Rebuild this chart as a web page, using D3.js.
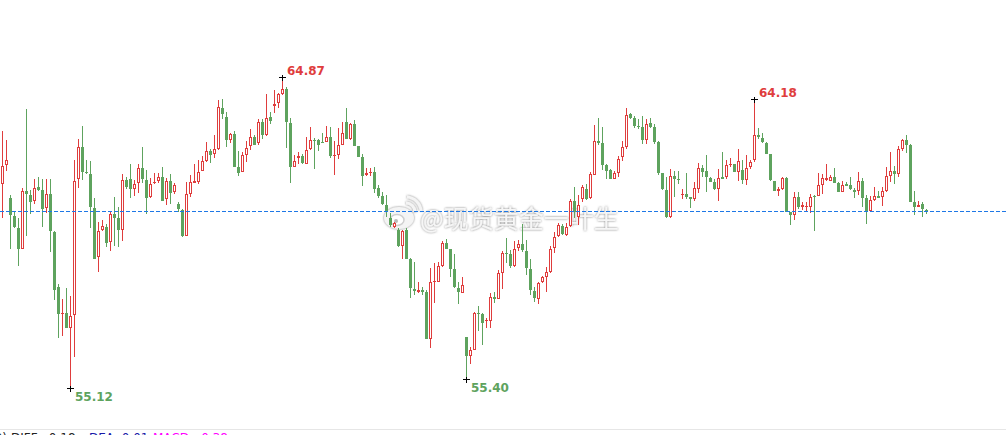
<!DOCTYPE html>
<html>
<head>
<meta charset="utf-8">
<script src="https://cdn.jsdelivr.net/npm/d3@7/dist/d3.min.js"></script>
<style>
  html, body { margin: 0; padding: 0; background: #ffffff; }
  svg { display: block; }
</style>
</head>
<body>
<div id="chart"></div>
<script>
// ---------------- DATA ----------------
const opens = [
61.50,62.09,61.07,60.50,60.13,59.48,61.29,61.15,60.97,61.40,
61.32,60.74,61.18,60.00,58.28,57.42,57.45,57.00,57.39,61.65,
62.66,61.89,61.82,60.74,59.21,60.05,60.16,59.68,60.57,60.44,
60.06,61.63,61.65,61.36,61.53,62.01,61.63,61.09,61.55,61.59,
61.72,61.03,61.60,61.25,60.88,60.69,59.89,61.20,61.55,61.57,
61.92,62.24,62.54,62.44,62.61,63.88,63.61,62.88,63.07,62.04,
61.87,62.43,62.71,62.97,62.78,63.45,63.05,63.61,63.96,64.03,
64.34,64.47,63.41,62.05,62.31,62.37,62.14,62.59,62.89,62.89,
62.82,62.81,62.97,62.40,62.43,62.74,63.45,62.92,63.39,62.69,
62.35,61.78,61.86,61.89,61.38,61.13,60.86,60.43,60.15,60.06,
59.57,60.06,59.14,58.21,58.13,58.17,58.12,56.66,58.43,58.44,
58.93,59.65,59.46,58.84,58.24,58.10,56.71,56.12,56.31,57.47,
57.43,57.20,57.20,57.96,57.89,58.73,59.34,59.32,58.95,59.49,
59.63,59.40,58.83,58.15,57.89,58.43,58.60,58.76,59.50,59.88,
60.20,59.91,60.18,60.96,60.48,61.04,61.34,61.06,61.80,62.85,
62.80,62.09,61.95,61.67,61.86,62.34,62.68,63.70,63.57,63.34,
63.30,62.87,63.42,63.30,62.82,61.84,61.32,60.48,61.75,61.66,
61.17,61.18,61.10,61.04,61.36,62.00,61.91,61.68,61.56,61.36,
61.72,61.72,62.09,62.14,61.89,61.95,61.62,62.03,62.26,63.03,
62.96,62.80,62.45,61.61,61.30,61.34,61.70,60.64,60.52,61.11,
60.77,60.77,60.80,61.12,61.12,61.48,61.63,61.61,61.71,61.54,
61.25,61.51,61.48,61.33,61.29,61.60,61.06,60.67,60.99,61.13,
61.09,61.29,61.75,61.91,61.81,62.60,62.89,62.73,60.94,60.80,
60.87,60.70];

const highs = [
63.17,62.89,61.15,60.64,60.43,61.37,63.86,61.32,61.67,61.72,
61.66,61.66,61.66,60.02,58.37,57.90,58.24,58.00,62.26,62.92,
63.32,62.26,62.24,61.06,60.30,60.38,60.25,60.63,61.09,60.78,
61.81,61.72,62.13,61.63,62.13,62.67,61.95,61.69,61.84,61.84,
62.04,61.69,61.82,61.55,60.93,60.73,61.57,61.79,62.13,62.26,
62.38,62.82,62.59,63.04,64.14,64.17,63.76,63.12,63.17,62.54,
62.50,62.86,63.23,63.03,63.54,63.54,64.34,63.75,64.45,64.36,
64.87,64.55,63.58,62.42,62.51,62.45,62.97,63.29,62.94,62.91,
63.11,63.33,63.29,62.86,63.26,63.44,63.89,63.43,63.51,62.69,
62.45,62.00,62.02,62.04,61.46,61.27,61.16,60.59,60.33,60.12,
60.06,60.14,59.20,59.07,58.42,58.29,58.18,58.86,59.04,59.07,
59.72,59.79,59.47,59.32,58.44,58.58,56.72,56.41,57.49,57.68,
57.47,57.32,58.10,58.12,58.81,59.39,59.82,59.45,59.72,59.74,
60.25,59.75,59.14,58.29,58.43,58.62,58.91,59.56,60.01,60.29,
60.25,60.27,61.03,61.40,61.16,61.48,61.50,61.87,63.36,63.57,
63.30,62.13,61.98,61.90,62.38,62.85,63.88,63.74,63.65,63.53,
63.64,63.53,63.57,63.38,62.85,61.84,61.74,61.97,61.91,61.92,
61.36,61.84,61.11,61.58,62.18,62.10,62.41,61.71,61.65,61.97,
62.50,62.26,62.31,62.14,62.60,62.26,62.40,62.26,64.18,63.27,
63.10,62.81,62.45,61.61,61.40,61.72,61.73,60.64,61.24,61.25,
60.93,60.93,61.18,61.16,61.85,61.82,62.12,61.80,62.01,61.58,
61.61,61.57,61.73,61.39,61.88,61.69,61.15,61.13,61.41,61.29,
61.41,62.04,62.51,62.06,62.70,62.92,63.04,62.76,61.29,60.96,
60.94,60.72];

const lows = [
60.45,61.92,59.47,60.12,58.95,59.46,59.89,60.56,60.88,61.30,
60.17,60.59,59.36,57.87,56.69,56.75,57.00,55.12,56.07,61.39,
61.63,61.82,60.12,59.16,58.76,60.02,59.54,59.42,59.56,59.52,
59.73,61.36,61.08,61.14,61.23,61.55,60.58,61.08,61.52,61.53,
60.98,60.86,60.89,61.18,60.64,59.86,59.89,61.11,61.55,61.52,
61.91,62.21,62.18,62.33,62.57,63.55,62.68,62.80,62.05,61.77,
61.87,62.21,62.56,62.74,62.73,62.93,63.02,63.39,63.74,63.90,
64.31,62.65,61.55,62.05,62.12,62.13,62.14,62.58,61.99,62.55,
62.78,62.81,62.31,61.80,62.28,62.74,62.92,62.87,62.71,62.35,
61.45,61.77,61.77,61.21,61.08,60.86,60.48,60.15,60.12,59.54,
59.17,59.14,57.92,58.03,58.09,58.03,56.64,56.38,57.77,58.42,
58.91,59.48,58.58,58.26,57.73,58.08,55.40,55.86,56.30,56.90,
56.46,57.00,57.00,57.77,57.89,58.21,59.04,58.86,58.91,59.42,
59.36,58.65,58.03,57.82,57.73,58.41,58.13,58.73,59.35,59.86,
59.91,59.88,60.17,60.45,60.21,60.95,61.00,61.04,61.79,62.73,
61.95,61.65,61.65,61.65,61.72,62.23,62.61,63.55,63.27,63.22,
62.75,62.75,63.27,62.76,61.79,61.32,60.45,60.45,61.11,61.50,
61.03,61.03,60.76,60.98,61.21,61.71,61.26,61.58,61.32,60.97,
61.65,61.67,62.03,61.88,61.59,61.51,61.48,61.97,62.19,62.93,
62.78,62.45,61.59,61.30,61.14,61.32,60.64,60.22,60.38,60.72,
60.69,60.66,60.61,60.04,61.12,61.20,61.60,61.59,61.53,61.25,
61.24,61.45,61.32,61.08,61.17,60.80,60.26,60.67,60.98,61.06,
60.82,61.26,61.58,61.50,61.74,62.55,62.47,60.95,60.54,60.80,
60.48,60.55];

const closes = [
62.07,62.26,60.52,60.15,59.48,61.28,61.18,60.93,61.39,61.33,
60.73,61.18,60.02,58.18,57.42,57.46,57.00,57.36,61.60,62.66,
61.89,61.84,60.78,59.17,60.03,60.19,59.67,60.57,60.45,60.05,
61.63,61.41,61.36,61.50,62.01,61.67,61.08,61.50,61.57,61.72,
60.98,61.60,61.23,61.46,60.71,59.89,61.18,61.56,61.61,61.87,
62.23,62.53,62.43,62.59,63.91,63.71,62.87,63.07,62.05,61.86,
62.42,62.64,62.97,62.74,63.45,63.05,63.57,63.49,64.02,64.34,
64.49,63.44,62.05,62.22,62.37,62.15,62.56,62.89,62.86,62.74,
62.80,62.97,62.38,62.42,62.72,63.11,62.93,63.38,62.71,62.36,
61.77,61.84,61.89,61.35,61.14,60.87,60.64,60.22,60.29,59.56,
60.03,59.16,58.23,58.15,58.17,58.13,56.66,58.42,58.47,58.93,
59.65,59.48,58.85,58.27,58.13,58.33,56.12,56.29,57.46,57.44,
57.16,57.23,57.96,57.90,58.73,59.34,59.32,58.95,59.47,59.63,
59.43,58.86,58.18,57.92,58.40,58.58,58.75,59.46,59.85,60.21,
59.94,60.17,60.96,60.64,60.84,61.41,61.04,61.82,62.85,62.80,
62.10,61.92,61.67,61.84,62.28,62.66,63.67,63.59,63.34,63.30,
62.87,63.38,63.30,62.83,61.86,61.34,60.48,61.75,61.66,61.64,
61.19,61.11,61.05,61.37,62.00,61.88,61.71,61.58,61.35,61.68,
61.67,62.09,62.13,61.88,62.24,61.63,62.01,62.20,63.03,62.97,
62.81,62.46,61.62,61.30,61.34,61.68,60.64,60.52,61.09,60.77,
60.85,60.82,61.11,61.11,61.48,61.68,61.70,61.74,61.55,61.25,
61.48,61.45,61.34,61.27,61.60,61.08,60.67,61.00,61.13,61.08,
61.29,61.76,61.91,61.83,62.59,62.89,62.74,60.95,60.80,60.85,
60.71,60.65];

// extreme markers: candle index and kind
const markIndex = [70, 188, 17, 116];
const markKind  = ["high", "high", "low", "low"];

// indicator footer
const footerPrefix = "MACD(12,26,9)";
const footerLabels = ["DIFF:", "DEA:", "MACD:"];
const footerValues = ["-0.18", "0.01", "-0.38"];

const watermarkText = "@现货黄金一叶生";

// ---------------- DRAW ----------------
const W = 1006, H = 435;
const UP = "#df3d3d", DOWN = "#5ea35e";

const svg = d3.select("#chart").append("svg")
  .attr("width", W).attr("height", H)
  .style("background", "#fff");

const n = closes.length;
const x = d3.scaleBand().domain(d3.range(n)).range([0.5, 928.5])
  .paddingInner(0.25).paddingOuter(0.125);
const y = d3.scaleLinear().domain([55.12, 64.87]).range([387.7, 76.7]);

const data = d3.range(n).map(i => ({i, o: opens[i], h: highs[i], l: lows[i], c: closes[i]}));

// watermark (behind)
const defs = svg.append("defs");
const f = defs.append("filter").attr("id", "wmShadow").attr("x", "-20%").attr("y", "-40%").attr("width", "140%").attr("height", "180%");
f.append("feGaussianBlur").attr("in", "SourceAlpha").attr("stdDeviation", 1.3).attr("result", "b");
f.append("feFlood").attr("flood-color", "#6f6f6f").attr("flood-opacity", 0.9);
f.append("feComposite").attr("in2", "b").attr("operator", "in").attr("result", "s");
const fm = f.append("feMerge");
fm.append("feMergeNode").attr("in", "s");
fm.append("feMergeNode").attr("in", "SourceGraphic");

const wm = svg.append("g").attr("filter", "url(#wmShadow)");
// simplified weibo logo
wm.append("ellipse").attr("cx", 399).attr("cy", 218).attr("rx", 15).attr("ry", 11).attr("fill", "#f4f4f4");
wm.append("ellipse").attr("cx", 397).attr("cy", 220).attr("rx", 7).attr("ry", 5.5).attr("fill", "#fff").attr("stroke", "#cfcfcf").attr("stroke-width", 1.5);
wm.append("circle").attr("cx", 396).attr("cy", 221).attr("r", 2).attr("fill", "#bbb");
wm.append("path").attr("d", "M406,203 A9,9 0 0 1 415,212").attr("fill", "none").attr("stroke", "#f4f4f4").attr("stroke-width", 3);
wm.append("path").attr("d", "M407,197 A15,15 0 0 1 421,211").attr("fill", "none").attr("stroke", "#f4f4f4").attr("stroke-width", 3);
wm.append("text").attr("x", 420).attr("y", 228)
  .attr("font-family", "'Noto Sans CJK SC', sans-serif").attr("font-size", 25)
  .attr("fill", "#f6f6f6").text(watermarkText);

// candles
const g = svg.append("g").attr("shape-rendering", "crispEdges");
const cx = i => x(i) + x.bandwidth() / 2;

g.selectAll("line.wick").data(data).join("line")
  .attr("class", "wick")
  .attr("x1", d => cx(d.i)).attr("x2", d => cx(d.i))
  .attr("y1", d => y(d.h)).attr("y2", d => y(d.l))
  .attr("stroke", d => d.c > d.o ? UP : DOWN).attr("stroke-width", 1);

g.selectAll("rect.body").data(data).join("rect")
  .attr("class", "body")
  .each(function(d) {
    const up = d.c > d.o;
    const top = Math.round(y(Math.max(d.o, d.c)));
    const bot = Math.round(y(Math.min(d.o, d.c)));
    const hgt = bot - top;
    const s = d3.select(this);
    if (up && hgt >= 2) {
      s.attr("x", x(d.i) + 0.5).attr("y", top + 0.5)
       .attr("width", x.bandwidth() - 1).attr("height", hgt - 1)
       .attr("fill", "#fff").attr("stroke", UP).attr("stroke-width", 1);
    } else {
      s.attr("x", x(d.i)).attr("y", top)
       .attr("width", x.bandwidth()).attr("height", Math.max(1, hgt))
       .attr("fill", up ? UP : DOWN);
    }
  });

// last price dashed line
svg.append("line")
  .attr("x1", 0).attr("x2", W)
  .attr("y1", Math.round(y(closes[n - 1])) + 0.5).attr("y2", Math.round(y(closes[n - 1])) + 0.5)
  .attr("stroke", "#1e78e6").attr("stroke-width", 1).attr("stroke-dasharray", "4,2");

// extreme markers
markIndex.forEach((idx, k) => {
  const isHigh = markKind[k] === "high";
  const px = cx(idx);
  const py = Math.round(y(isHigh ? highs[idx] : lows[idx])) + 0.5;
  svg.append("line").attr("x1", px - 3.5).attr("x2", px + 3.5).attr("y1", py).attr("y2", py)
    .attr("stroke", "#000").attr("stroke-width", 1).attr("shape-rendering", "crispEdges");
  svg.append("line").attr("x1", px).attr("x2", px).attr("y1", py - 3).attr("y2", py + 3)
    .attr("stroke", "#000").attr("stroke-width", 1).attr("shape-rendering", "crispEdges");
  svg.append("text")
    .attr("x", px + 4.5).attr("y", isHigh ? py - 3 : py + 12.5)
    .attr("font-family", "'DejaVu Sans', sans-serif").attr("font-size", 12).attr("font-weight", "bold")
    .attr("fill", isHigh ? UP : DOWN)
    .text(d3.format(".2f")(isHigh ? highs[idx] : lows[idx]));
});

// footer separator + indicator text (clipped at the bottom edge, as in the source)
svg.append("line").attr("x1", 0).attr("x2", W).attr("y1", 429.5).attr("y2", 429.5)
  .attr("stroke", "#e6e6e6").attr("stroke-width", 1);
const ft = svg.append("g").attr("font-family", "'DejaVu Sans', sans-serif").attr("font-size", 12);
ft.append("text").attr("x", 7).attr("y", 442).attr("text-anchor", "end").attr("fill", "#222").text(footerPrefix);
const fx = [11, 89, 153];
const fc = ["#222", "#1a1aa8", "#ff00ff"];
footerLabels.forEach((lab, k) => {
  ft.append("text").attr("x", fx[k]).attr("y", 442).attr("fill", fc[k])
    .text(lab + " " + footerValues[k]);
});
</script>
</body>
</html>
